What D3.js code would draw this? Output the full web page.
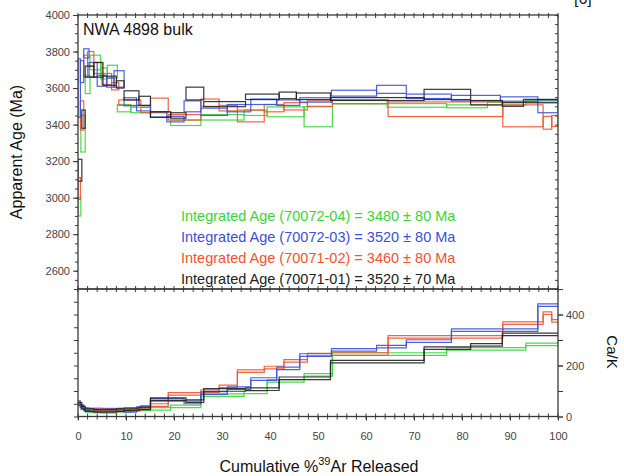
<!DOCTYPE html>
<html><head><meta charset="utf-8">
<script src="https://cdn.jsdelivr.net/npm/d3@7"></script>
<style>body{margin:0;background:#fff}svg{display:block}text{font-family:"Liberation Sans",Arial,sans-serif}</style>
</head><body><svg id="c" width="624" height="476"></svg>
<script>
// ---------- data ----------
const xTickLabels = [0,10,20,30,40,50,60,70,80,90,100];
const ageTickLabels = [2600,2800,3000,3200,3400,3600,3800,4000];
const cakTickLabels = [0,200,400];
const sampleIds = ["70072-04","70072-03","70071-02","70071-01"];
const integratedAge = [3480,3520,3460,3520];
const integratedErr = [80,80,80,70];
const sampleColors = ["#3ad43a","#3b4fdc","#f0532e","#222222"];
// each step: [cumulative % 39Ar at end of step, apparent age (Ma), ± (Ma), Ca/K]
const steps7007204 = [
  [0.6,2950,50,48],[1.5,3350,100,32],[2.5,3620,50,22],[4.7,3740,40,20],[6.1,3680,30,18],
  [8.2,3690,35,18],[11.0,3490,20,22],[15.1,3480,15,28],[19.3,3455,15,30],[25.6,3410,15,40],
  [34.6,3440,15,84],[39.4,3465,15,95],[47.1,3470,27,140],[53.0,3443,55,163],[64.4,3525,12,245],
  [76.8,3505,10,245],[85.3,3500,8,265],[93.3,3515,8,265],[100,3525,8,283]
];
const steps7007203 = [
  [0.5,3600,160,55],[1.2,3690,60,40],[2.3,3790,25,28],[4.0,3700,40,25],[6.0,3640,30,24],
  [7.5,3630,25,25],[9.6,3650,45,25],[12.2,3525,22,22],[15.1,3490,15,33],[18.5,3455,15,65],
  [22.1,3430,15,65],[25.6,3500,30,55],[31.1,3470,20,92],[36.0,3490,20,111],[41.4,3525,15,147],
  [46.2,3520,15,189],[52.8,3535,12,241],[62.2,3572,16,261],[68.4,3593,22,274],[77.8,3555,12,296],
  [88.0,3545,15,339],[95.8,3540,12,339],[100,3500,35,437]
];
const steps7007102 = [
  [0.5,3050,60,55],[1.2,3450,80,40],[2.0,3720,60,30],[3.3,3760,40,28],[5.0,3710,30,28],
  [7.0,3650,30,27],[8.5,3610,20,27],[13.1,3520,15,28],[15.1,3480,15,38],[18.8,3505,40,45],
  [25.6,3440,15,89],[29.4,3520,20,100],[33.2,3490,15,118],[38.8,3447,32,178],[42.9,3490,20,192],
  [47.8,3500,20,218],[53.0,3515,15,243],[64.6,3525,10,245],[88.5,3484,40,312],[96.9,3448,60,366],
  [98.7,3410,35,405],[100,3420,30,375]
];
const steps7007101 = [
  [0.8,3150,60,50],[1.5,3430,50,35],[3.3,3690,30,25],[5.2,3700,40,22],[8.0,3640,25,22],
  [9.6,3620,20,25],[12.7,3560,25,28],[15.1,3530,25,32],[19.3,3455,15,68],[22.5,3450,15,68],
  [26.2,3570,35,60],[34.9,3512,14,104],[41.9,3552,15,107],[45.5,3560,18,150],[52.6,3555,18,150],
  [72.1,3540,8,215],[81.8,3565,28,268],[88.4,3520,12,281],[92.8,3510,10,322],[100,3530,8,322]
];
const cakErr = 5;
const drawOrder = [0,2,1,3];
const allSteps = [steps7007204, steps7007203, steps7007102, steps7007101];

// ---------- chart ----------
const svg = d3.select("#c");
const L = 78, R = 558, T = 15, M = 289, B = 416.5;
const x = d3.scaleLinear().domain([0,100]).range([L,R]);
const yA = d3.scaleLinear().domain([2500,4000]).range([M,T]);
const yC = d3.scaleLinear().domain([0,500]).range([B,M]);
const axisCol = "#3a3a3a";

const defs = svg.append("defs");
defs.append("clipPath").attr("id","cpA").append("rect").attr("x",L).attr("y",T).attr("width",R-L).attr("height",M-T);
defs.append("clipPath").attr("id","cpC").append("rect").attr("x",L).attr("y",M).attr("width",R-L).attr("height",B-M);

// caption fragment at top (cut off in the reference too)
svg.append("text").attr("x",574).attr("y",4).attr("font-size",16).attr("fill","#222").text("[6]");

function toSteps(arr){
  let prev = 0;
  return arr.map(d => { const s = {x0:prev,x1:d[0],age:d[1],err:d[2],cak:d[3]}; prev = d[0]; return s; });
}

const gA = svg.append("g").attr("clip-path","url(#cpA)");
const gC = svg.append("g").attr("clip-path","url(#cpC)");
const stepLine = d3.line().x(d=>x(d[0])).y(d=>yC(d[1])).curve(d3.curveStepAfter);
drawOrder.forEach(i => {
  const st = toSteps(allSteps[i]);
  gA.append("g").selectAll("rect").data(st).join("rect")
    .attr("x",d=>x(d.x0)).attr("width",d=>x(d.x1)-x(d.x0))
    .attr("y",d=>yA(d.age+d.err)).attr("height",d=>yA(d.age-d.err)-yA(d.age+d.err))
    .attr("fill","none").attr("stroke",sampleColors[i]).attr("stroke-width",1.2).attr("opacity",0.9);
  [cakErr, -cakErr].forEach(off => {
    const pts = st.map(d => [d.x0, d.cak+off]);
    pts.push([100, st[st.length-1].cak+off]);
    gC.append("path").attr("d",stepLine(pts)).attr("fill","none")
      .attr("stroke",sampleColors[i]).attr("stroke-width",1.2).attr("opacity",0.9);
  });
});

// frames
svg.append("rect").attr("x",L).attr("y",T).attr("width",R-L).attr("height",M-T).attr("fill","none").attr("stroke",axisCol).attr("stroke-width",1.3);
svg.append("rect").attr("x",L).attr("y",M).attr("width",R-L).attr("height",B-M).attr("fill","none").attr("stroke",axisCol).attr("stroke-width",1.3);

function styleAxis(g){
  g.select(".domain").remove();
  g.selectAll("line").attr("stroke",axisCol).attr("stroke-width",1);
  g.selectAll("text").attr("fill","#444").attr("font-size",11).attr("font-family","'Liberation Sans',Arial,sans-serif");
}
function xMinor(y0, up, down){
  svg.append("g").selectAll("line").data(d3.range(0,101,2)).join("line")
    .attr("x1",d=>x(d)).attr("x2",d=>x(d)).attr("y1",y0-up).attr("y2",y0+down)
    .attr("stroke",axisCol).attr("stroke-width",1);
}
xMinor(T,2,3);
xMinor(M,3,3);
xMinor(B,3,3);

const gx = svg.append("g").attr("transform",`translate(0,${B})`)
  .call(d3.axisBottom(x).tickValues(xTickLabels).tickSize(4).tickPadding(12).tickFormat(d3.format("d")));
styleAxis(gx);

const gyMinor = svg.append("g").attr("transform",`translate(${L},0)`)
  .call(d3.axisLeft(yA).tickValues(d3.range(2500,4001,50)).tickSize(3).tickFormat(""));
styleAxis(gyMinor);
const gy = svg.append("g").attr("transform",`translate(${L},0)`)
  .call(d3.axisLeft(yA).tickValues(ageTickLabels).tickSize(5).tickPadding(3).tickFormat(d3.format("d")));
styleAxis(gy);
const gyR = svg.append("g").attr("transform",`translate(${R},0)`)
  .call(d3.axisLeft(yA).tickValues(d3.range(2500,4001,50)).tickSize(3).tickFormat(""));
styleAxis(gyR);

const gcl = svg.append("g").attr("transform",`translate(${L},0)`)
  .call(d3.axisLeft(yC).tickValues(d3.range(0,501,50)).tickSize(4).tickFormat(""));
styleAxis(gcl);
const gcrMinor = svg.append("g").attr("transform",`translate(${R},0)`)
  .call(d3.axisRight(yC).tickValues(d3.range(0,501,100)).tickSize(5).tickFormat(""));
styleAxis(gcrMinor);
const gcr = svg.append("g").attr("transform",`translate(${R},0)`)
  .call(d3.axisRight(yC).tickValues(cakTickLabels).tickSize(5).tickPadding(3).tickFormat(d3.format("d")));
styleAxis(gcr);

svg.append("text").attr("x",83).attr("y",35).attr("font-size",16).attr("fill","#111").text("NWA 4898 bulk");
svg.append("text").attr("transform","translate(22,152) rotate(-90)").attr("text-anchor","middle")
  .attr("font-size",16).attr("fill","#111").text("Apparent Age (Ma)");
svg.append("text").attr("transform","translate(607,352) rotate(90)").attr("text-anchor","middle")
  .attr("font-size",15).attr("fill","#111").text("Ca/K");
const xl = svg.append("text").attr("x",319).attr("y",472).attr("text-anchor","middle").attr("font-size",16).attr("fill","#111");
xl.append("tspan").text("Cumulative %");
xl.append("tspan").attr("font-size",11).attr("dy",-7).text("39");
xl.append("tspan").attr("dy",7).text("Ar Released");

svg.append("g").selectAll("text").data(sampleIds).join("text")
  .attr("x",181).attr("y",(d,i)=>221+i*21).attr("font-size",14.5)
  .attr("fill",(d,i)=>sampleColors[i])
  .text((d,i)=>`Integrated Age (${d}) = ${integratedAge[i]} \u00b1 ${integratedErr[i]} Ma`);
</script></body></html>
